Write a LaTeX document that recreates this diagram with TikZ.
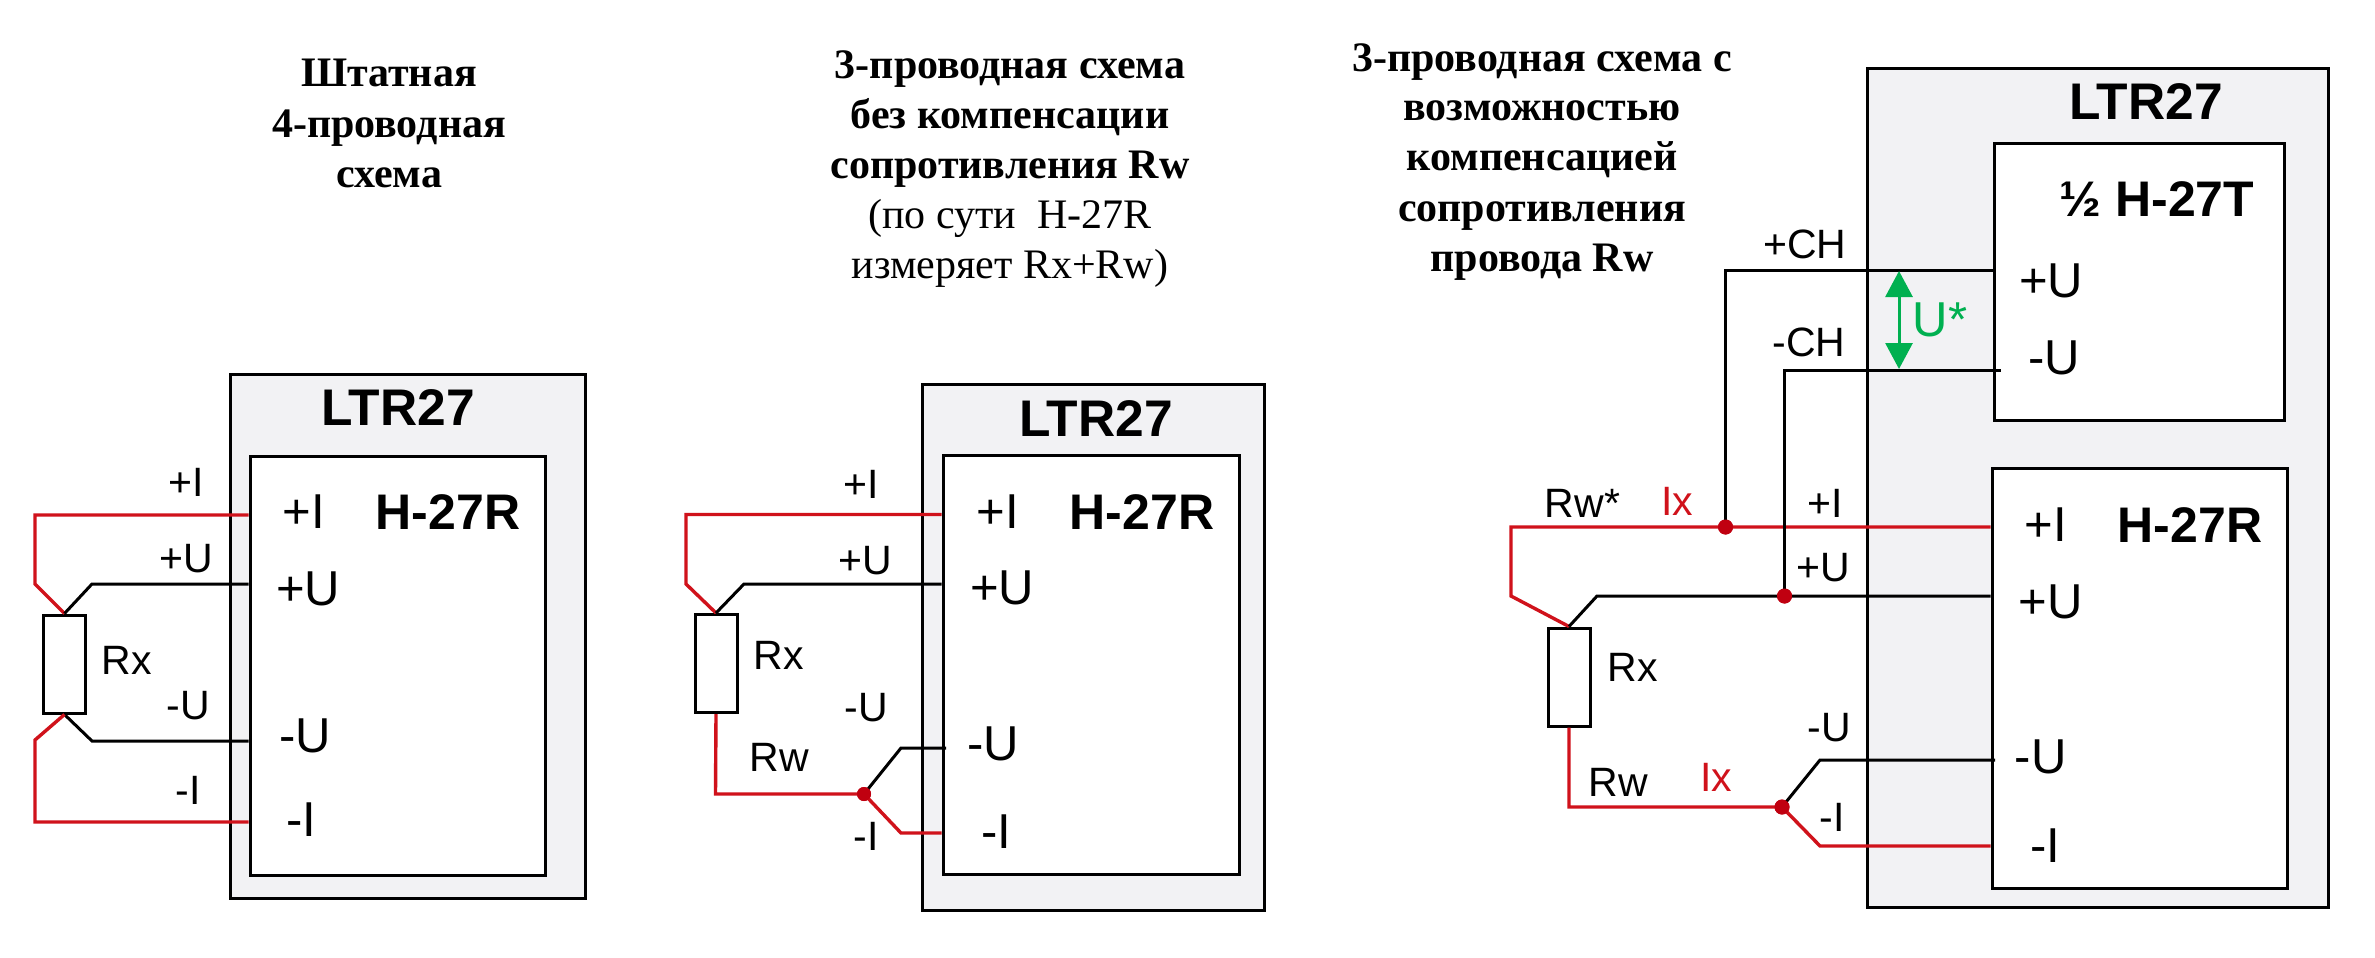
\documentclass[tikz,border=0pt]{standalone}
\usepackage{fontspec}
\setmainfont{Liberation Sans}
\newfontfamily\titlefont{Liberation Serif}
\usetikzlibrary{arrows.meta}
\definecolor{boxgray}{HTML}{F2F2F4}
\definecolor{wirered}{HTML}{D0121B}
\definecolor{dotred}{HTML}{C00010}
\definecolor{arrowgreen}{HTML}{00B050}
\tikzset{
  x=1pt,y=-1pt,
  outerbox/.style={draw=black,line width=3pt,fill=boxgray,inner sep=0pt},
  innerbox/.style={draw=black,line width=3pt,fill=white,inner sep=0pt},
  res/.style={draw=black,line width=3pt,fill=white,inner sep=0pt},
  rwire/.style={draw=wirered,line width=3.4pt,line join=miter},
  kwire/.style={draw=black,line width=3pt},
  junction/.style={circle,fill=dotred,inner sep=0pt,minimum size=15pt},
  big/.style={inner sep=0pt,font=\fontsize{49}{49}\selectfont},
  bigb/.style={inner sep=0pt,font=\fontsize{50}{50}\selectfont\bfseries},
  ltr/.style={inner sep=0pt,font=\fontsize{51.5}{51.5}\selectfont\bfseries},
  small/.style={inner sep=0pt,font=\fontsize{41}{41}\selectfont},
  ttl/.style={inner sep=0pt,anchor=base,font=\titlefont\fontsize{42}{42}\selectfont\bfseries},
  ttn/.style={inner sep=0pt,anchor=base,font=\titlefont\fontsize{42}{42}\selectfont},
}
\begin{document}
\begin{tikzpicture}
\useasboundingbox (0,0) rectangle (2375,958);
\fill[white] (0,0) rectangle (2375,958);
% ---------- diagram 1
\node[outerbox,minimum width=355pt,minimum height=524pt] (o1) at (407.5,636) {};
\node[innerbox,minimum width=295pt,minimum height=419pt] (i1) at (397.5,665.5) {};
\node[res,minimum width=42pt,minimum height=98pt] (r1) at (64.5,664) {};
\coordinate (a1) at (35,515); \coordinate (a2) at (35,584);
\coordinate (a3) at (92,584);
\coordinate (a4) at (92,741);
\coordinate (a5) at (35,740); \coordinate (a6) at (35,822);
\draw[rwire] (i1.west |- a1) -- (a1) -- (a2) -- (r1.north);
\draw[kwire] (i1.west |- a3) -- (a3) -- (r1.north);
\draw[kwire] (i1.west |- a4) -- (a4) -- (r1.south);
\draw[rwire] (i1.west |- a6) -- (a6) -- (a5) -- (r1.south);
\node[ltr] (t1a) at (398,408) {LTR27};
\node[bigb] (t1b) at (448,512) {H-27R};
\node[big] (t1c) at (304,512) {+I};
\node[big] (t1d) at (308,589) {+U};
\node[big] (t1e) at (305.5,736) {-U};
\node[big] (t1f) at (301,820) {-I};
\node[small] (t1g) at (186.5,482) {+I};
\node[small] (t1h) at (186.5,559) {+U};
\node[small] (t1i) at (188,706) {-U};
\node[small] (t1j) at (188.5,790) {-I};
\node[small] (t1k) at (126.5,660) {Rx};
% ---------- diagram 2
\node[outerbox,minimum width=342pt,minimum height=526pt] (o2) at (1093.5,647) {};
\node[innerbox,minimum width=296pt,minimum height=419.5pt] (i2) at (1091,664.75) {};
\node[res,minimum width=42pt,minimum height=98pt] (r2) at (716,663.5) {};
\coordinate (b1) at (686,514.5); \coordinate (b2) at (686,584);
\coordinate (b3) at (744,584);
\coordinate (b4) at (715.5,794);
\coordinate (b5) at (901,833);
\coordinate (b6) at (901,748); \coordinate (b7) at (946,748);
\node[junction,minimum size=14pt] (j2) at (864,794) {};
\draw[rwire] (i2.west |- b1) -- (b1) -- (b2) -- (r2.north);
\draw[kwire] (i2.west |- b3) -- (b3) -- (r2.north);
\draw[kwire] (j2.center) -- (b6) -- (b7);
\draw[rwire] (r2.south) -- (b4) -- (j2.center) -- (b5) -- (i2.west |- b5);
\node[junction,minimum size=14pt] at (j2) {};
\node[ltr] (t2a) at (1096,419) {LTR27};
\node[bigb] (t2b) at (1142,512) {H-27R};
\node[big] (t2c) at (998,512) {+I};
\node[big] (t2d) at (1002,588) {+U};
\node[big] (t2e) at (993,744) {-U};
\node[big] (t2f) at (996,832) {-I};
\node[small] (t2g) at (861,484) {+I};
\node[small] (t2h) at (865,561) {+U};
\node[small] (t2i) at (866,708) {-U};
\node[small] (t2j) at (866,836) {-I};
\node[small] (t2k) at (779,655) {Rx};
\node[small] (t2l) at (779,757) {Rw};
% ---------- diagram 3
\node[outerbox,minimum width=461pt,minimum height=838pt] (o3) at (2097.5,488) {};
\node[innerbox,minimum width=290pt,minimum height=277pt] (i3t) at (2139,281.5) {};
\node[innerbox,minimum width=295pt,minimum height=420pt] (i3r) at (2139.5,678) {};
\node[res,minimum width=42pt,minimum height=98pt] (r3) at (1569,677) {};
\coordinate (c1) at (1511,527); \coordinate (c2) at (1511,596);
\coordinate (c3) at (1597,596);
\coordinate (c4) at (1569,807);
\coordinate (c5) at (1820,846);
\coordinate (c6) at (1820,760); \coordinate (c7) at (1995,760);
\coordinate (c8) at (1725.5,270); \coordinate (c9) at (1784.5,370);
\coordinate (c10) at (2001,370);
\coordinate (c11) at (1899,271); \coordinate (c12) at (1899,369);
\node[junction] (j3a) at (1725.5,527) {};
\node[junction] (j3b) at (1784.5,596) {};
\node[junction] (j3c) at (1782,807) {};
\draw[rwire] (i3r.west |- c1) -- (c1) -- (c2) -- (r3.north);
\draw[kwire] (i3r.west |- c3) -- (c3) -- (r3.north);
\draw[kwire] (j3a.center) -- (c8) -- (i3t.west |- c8);
\draw[kwire] (j3b.center) -- (c9) -- (c10);
\draw[kwire] (j3c.center) -- (c6) -- (c7);
\draw[rwire] (r3.south) -- (c4) -- (j3c.center) -- (c5) -- (i3r.west |- c5);
\node[junction] at (j3a) {};
\node[junction] at (j3b) {};
\node[junction] at (j3c) {};
\draw[draw=arrowgreen,line width=3pt,{Triangle[length=26pt,width=27pt]}-{Triangle[length=26pt,width=27pt]}] (c11) -- (c12);
\node[ltr] (t3a) at (2146,102) {LTR27};
\node[bigb] (t3b) at (2157,199) {½ H-27T};
\node[big] (t3c) at (2051,281) {+U};
\node[big] (t3d) at (2054,358) {-U};
\node[small] (t3e) at (1805,244) {+CH};
\node[small] (t3f) at (1809,342) {-CH};
\node[big,text=arrowgreen] (t3g) at (1940,320) {U*};
\node[small] (t3h) at (1582.5,503) {Rw*};
\node[small,text=wirered] (t3i) at (1677.5,501) {Ix};
\node[small] (t3j) at (1825.6,503) {+I};
\node[small] (t3k) at (1823,568) {+U};
\node[small] (t3l) at (1632.5,667) {Rx};
\node[small] (t3m) at (1829,728) {-U};
\node[small] (t3n) at (1832,817) {-I};
\node[small] (t3o) at (1618,782) {Rw};
\node[small,text=wirered] (t3p) at (1716,777) {Ix};
\node[bigb] (t3q) at (2190,525) {H-27R};
\node[big] (t3r) at (2046,525) {+I};
\node[big] (t3s) at (2050.5,602) {+U};
\node[big] (t3t) at (2040.6,757) {-U};
\node[big] (t3u) at (2045,846) {-I};
% ---------- titles
\node[ttl] (h1a) at (389,87) {Штатная};
\node[ttl] (h1b) at (389,137) {4-проводная};
\node[ttl] (h1c) at (389,187) {схема};
\node[ttl] (h2a) at (1010,78) {3-проводная схема};
\node[ttl] (h2b) at (1010,128) {без компенсации};
\node[ttl] (h2c) at (1010,178) {сопротивления Rw};
\node[ttn] (h2d) at (1010,228) {(по сути\ \ H-27R};
\node[ttn] (h2e) at (1010,278) {измеряет Rx+Rw)};
\node[ttl] (h3a) at (1542,71) {3-проводная схема с};
\node[ttl] (h3b) at (1542,121) {возможностью};
\node[ttl] (h3c) at (1542,170) {компенсацией};
\node[ttl] (h3d) at (1542,221) {сопротивления};
\node[ttl] (h3e) at (1542,271) {провода Rw};
\end{tikzpicture}
\end{document}
